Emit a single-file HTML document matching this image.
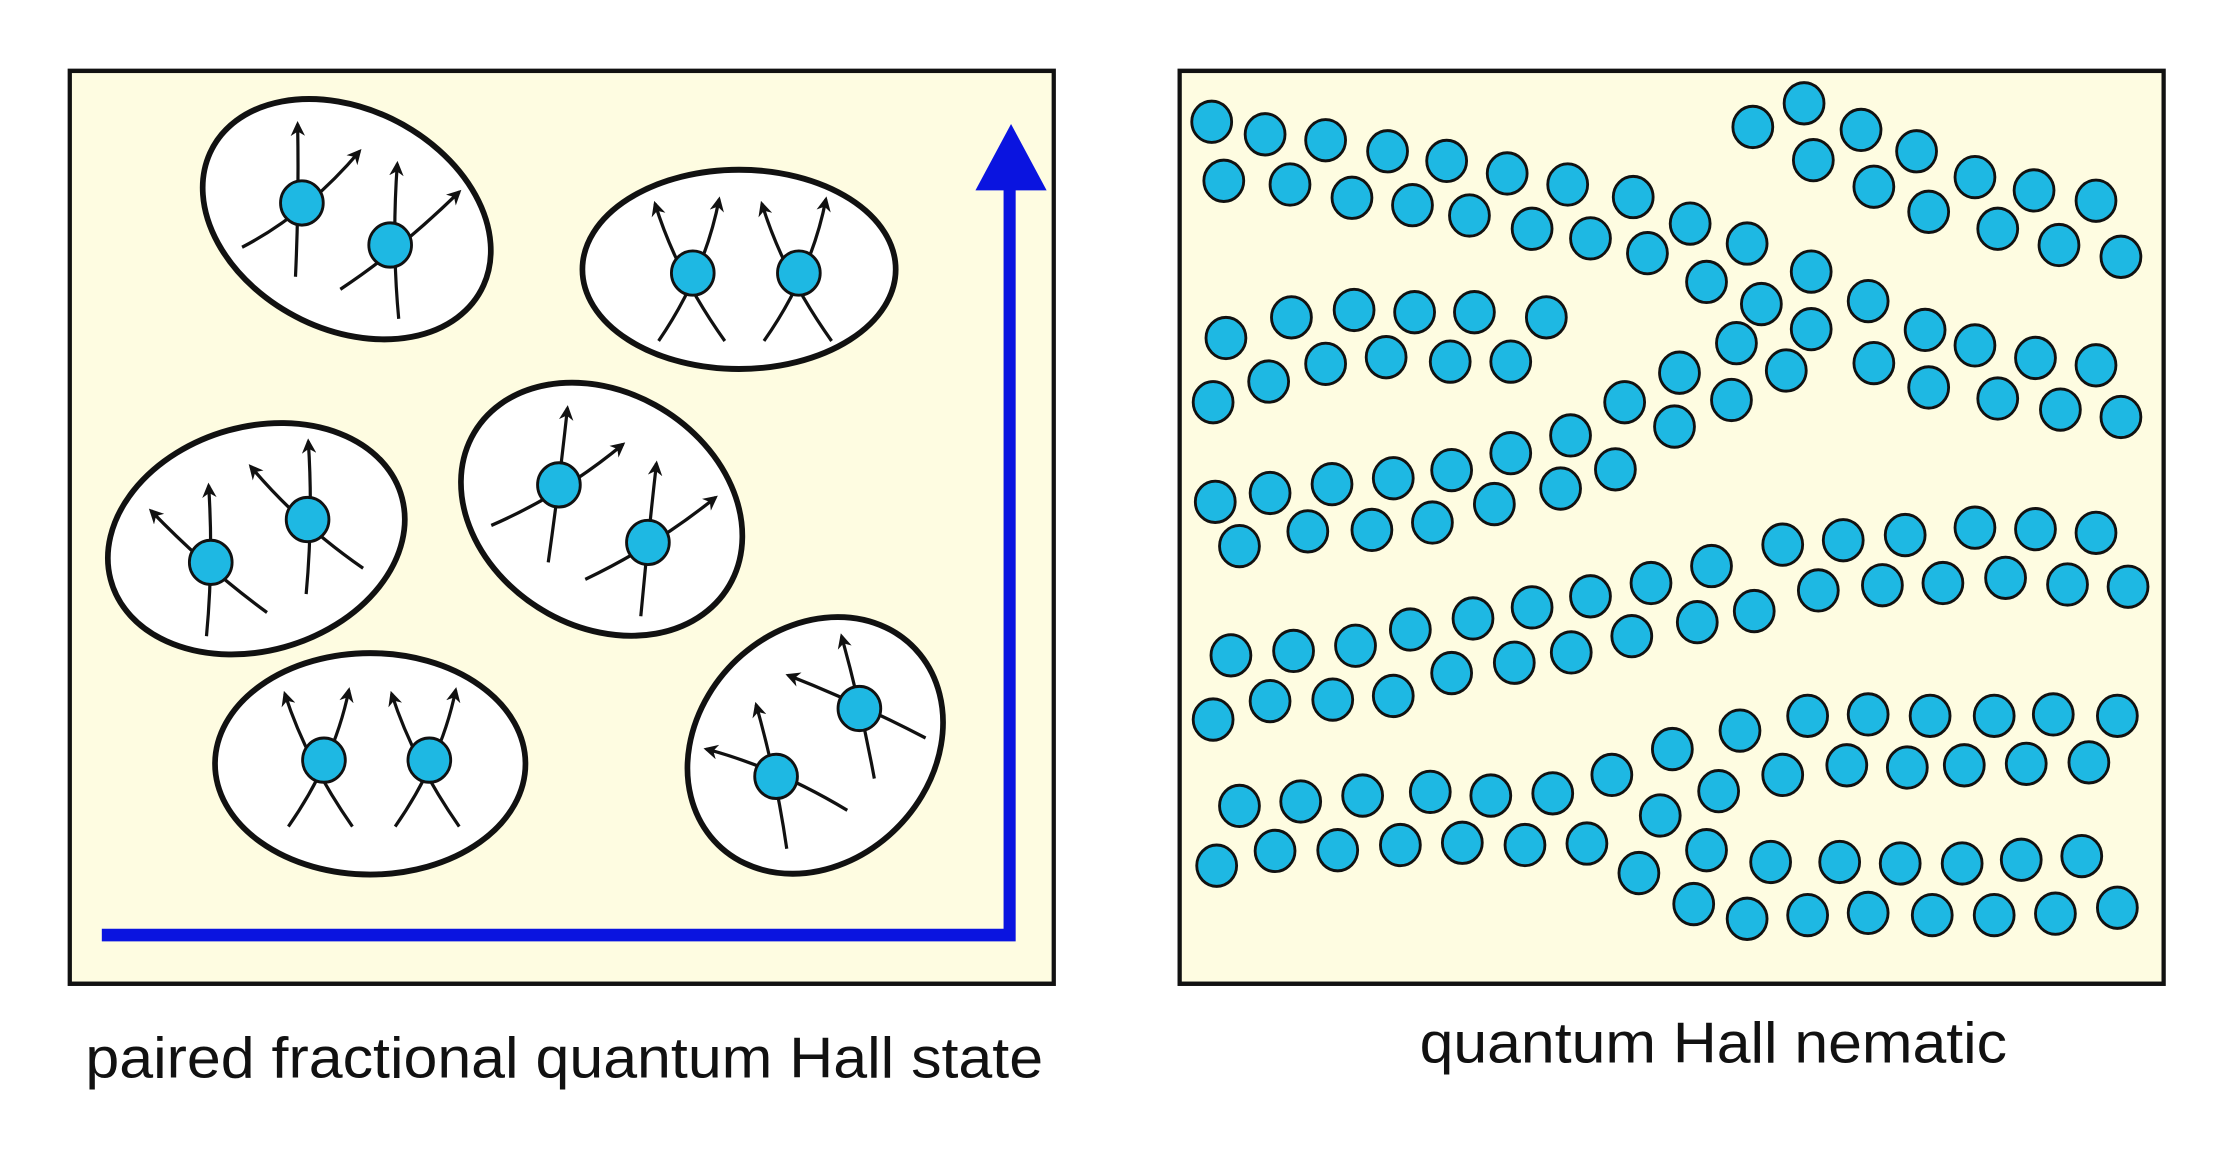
<!DOCTYPE html>
<html><head><meta charset="utf-8"><style>
html,body{margin:0;padding:0;background:#fff;}
svg{display:block;}
</style></head><body>
<svg width="2235" height="1158" viewBox="0 0 2235 1158" xmlns="http://www.w3.org/2000/svg">
<defs>
<marker id="ah" viewBox="0 0 10 10" refX="8" refY="5" markerWidth="4.5" markerHeight="4.5" orient="auto" markerUnits="strokeWidth">
<path d="M0,0 L10,5 L0,10 L3,5 z" fill="#111"/>
</marker>
</defs>
<rect width="2235" height="1158" fill="#fff"/>
<g transform="scale(0.712,0.738)">
<rect x="98" y="96" width="1382" height="1237" fill="#FEFCE1" stroke="#111" stroke-width="6"/>
<g fill="#fff" stroke="#111" stroke-width="8">
<ellipse cx="487" cy="297" rx="212" ry="150" transform="rotate(25 487 297)"/>
<ellipse cx="1038" cy="365" rx="220" ry="135"/>
<ellipse cx="360" cy="730" rx="212" ry="152" transform="rotate(-15 360 730)"/>
<ellipse cx="845" cy="690" rx="207" ry="160" transform="rotate(28 845 690)"/>
<ellipse cx="520" cy="1035" rx="218" ry="150"/>
<ellipse cx="1145" cy="1010" rx="192" ry="160" transform="rotate(-40 1145 1010)"/>
</g>
<g fill="none" stroke="#111" stroke-width="4.5" marker-end="url(#ah)">
<path d="M415,375 Q420,270 418,168"/><path d="M340,335 Q430,290 505,205"/>
<path d="M560,432 Q550,330 558,222"/><path d="M478,392 Q560,340 645,260"/>
<path d="M925,462 Q990,370 1010,270"/><path d="M1018,462 Q950,370 920,276"/>
<path d="M1073,462 Q1140,370 1160,270"/><path d="M1168,462 Q1100,370 1070,276"/>
<path d="M290,862 Q300,760 293,658"/><path d="M375,830 Q290,770 212,692"/>
<path d="M430,805 Q440,700 433,598"/><path d="M510,770 Q420,710 352,632"/>
<path d="M770,762 Q785,660 797,553"/><path d="M690,712 Q790,670 875,602"/>
<path d="M900,835 Q910,730 922,628"/><path d="M822,785 Q920,740 1005,674"/>
<path d="M405,1120 Q470,1030 490,935"/><path d="M495,1120 Q430,1030 400,940"/>
<path d="M555,1120 Q620,1030 640,935"/><path d="M645,1120 Q580,1030 550,940"/>
<path d="M1105,1150 Q1090,1050 1062,955"/><path d="M1190,1098 Q1090,1040 992,1015"/>
<path d="M1228,1055 Q1210,960 1182,862"/><path d="M1300,1000 Q1200,950 1107,915"/>
</g>
<g fill="#1EB8E3" stroke="#111" stroke-width="4">
<circle cx="424" cy="275" r="30"/><circle cx="548" cy="332" r="30"/>
<circle cx="973" cy="370" r="30"/><circle cx="1122" cy="370" r="30"/>
<circle cx="296" cy="762" r="30"/><circle cx="432" cy="704" r="30"/>
<circle cx="785" cy="657" r="30"/><circle cx="910" cy="735" r="30"/>
<circle cx="455" cy="1030" r="30"/><circle cx="603" cy="1030" r="30"/>
<circle cx="1090" cy="1052" r="30"/><circle cx="1207" cy="960" r="30"/>
</g>
<path d="M143,1267 L1418,1267 L1418,255" fill="none" stroke="#0A14E0" stroke-width="17"/>
<polygon points="1420,168 1370,258 1470,258" fill="#0A14E0"/>
<text x="120" y="1460" font-family="'Liberation Sans',sans-serif" font-size="78" fill="#111" textLength="1345" lengthAdjust="spacingAndGlyphs">paired fractional quantum Hall state</text>
</g>
<g transform="translate(1117,0) scale(0.712,0.738)">
<rect x="88" y="96" width="1382" height="1237" fill="#FEFCE1" stroke="#111" stroke-width="6"/>
<g fill="#1EB8E3" stroke="#111" stroke-width="4">
<circle cx="133" cy="165" r="28"/><circle cx="208" cy="182" r="28"/><circle cx="293" cy="190" r="28"/><circle cx="380" cy="205" r="28"/><circle cx="463" cy="218" r="28"/><circle cx="548" cy="235" r="28"/><circle cx="633" cy="250" r="28"/><circle cx="725" cy="267" r="28"/><circle cx="805" cy="303" r="28"/><circle cx="885" cy="330" r="28"/>
<circle cx="150" cy="245" r="28"/><circle cx="243" cy="250" r="28"/><circle cx="330" cy="268" r="28"/><circle cx="415" cy="278" r="28"/><circle cx="495" cy="292" r="28"/><circle cx="583" cy="310" r="28"/><circle cx="665" cy="323" r="28"/><circle cx="745" cy="343" r="28"/><circle cx="828" cy="382" r="28"/><circle cx="905" cy="412" r="28"/>
<circle cx="893" cy="172" r="28"/><circle cx="965" cy="140" r="28"/><circle cx="1045" cy="176" r="28"/><circle cx="1123" cy="205" r="28"/><circle cx="1205" cy="240" r="28"/><circle cx="1288" cy="258" r="28"/><circle cx="1375" cy="272" r="28"/>
<circle cx="978" cy="217" r="28"/><circle cx="1063" cy="253" r="28"/><circle cx="1140" cy="287" r="28"/><circle cx="1237" cy="310" r="28"/><circle cx="1323" cy="332" r="28"/><circle cx="1410" cy="348" r="28"/>
<circle cx="975" cy="368" r="28"/><circle cx="1055" cy="408" r="28"/><circle cx="1135" cy="447" r="28"/><circle cx="1205" cy="468" r="28"/><circle cx="1290" cy="485" r="28"/><circle cx="1375" cy="495" r="28"/>
<circle cx="975" cy="446" r="28"/><circle cx="870" cy="465" r="28"/><circle cx="940" cy="502" r="28"/><circle cx="863" cy="542" r="28"/><circle cx="1063" cy="492" r="28"/><circle cx="1140" cy="525" r="28"/><circle cx="1237" cy="540" r="28"/><circle cx="1325" cy="555" r="28"/><circle cx="1410" cy="565" r="28"/>
<circle cx="245" cy="430" r="28"/><circle cx="333" cy="420" r="28"/><circle cx="418" cy="423" r="28"/><circle cx="502" cy="423" r="28"/><circle cx="603" cy="430" r="28"/>
<circle cx="153" cy="458" r="28"/><circle cx="213" cy="517" r="28"/><circle cx="293" cy="493" r="28"/><circle cx="378" cy="484" r="28"/><circle cx="468" cy="490" r="28"/><circle cx="553" cy="490" r="28"/><circle cx="135" cy="545" r="28"/>
<circle cx="138" cy="680" r="28"/><circle cx="215" cy="668" r="28"/><circle cx="302" cy="656" r="28"/><circle cx="388" cy="648" r="28"/><circle cx="470" cy="637" r="28"/><circle cx="553" cy="614" r="28"/><circle cx="637" cy="590" r="28"/><circle cx="713" cy="545" r="28"/><circle cx="790" cy="505" r="28"/>
<circle cx="172" cy="740" r="28"/><circle cx="268" cy="720" r="28"/><circle cx="358" cy="718" r="28"/><circle cx="443" cy="708" r="28"/><circle cx="530" cy="683" r="28"/><circle cx="623" cy="662" r="28"/><circle cx="700" cy="636" r="28"/><circle cx="783" cy="578" r="28"/>
<circle cx="160" cy="888" r="28"/><circle cx="248" cy="882" r="28"/><circle cx="335" cy="875" r="28"/><circle cx="412" cy="853" r="28"/><circle cx="500" cy="838" r="28"/><circle cx="583" cy="823" r="28"/><circle cx="665" cy="808" r="28"/><circle cx="750" cy="790" r="28"/><circle cx="835" cy="767" r="28"/><circle cx="935" cy="738" r="28"/><circle cx="1020" cy="732" r="28"/><circle cx="1107" cy="725" r="28"/><circle cx="1205" cy="715" r="28"/><circle cx="1290" cy="717" r="28"/><circle cx="1375" cy="722" r="28"/>
<circle cx="135" cy="975" r="28"/><circle cx="215" cy="950" r="28"/><circle cx="303" cy="948" r="28"/><circle cx="388" cy="943" r="28"/><circle cx="470" cy="912" r="28"/><circle cx="558" cy="898" r="28"/><circle cx="638" cy="884" r="28"/><circle cx="723" cy="862" r="28"/><circle cx="815" cy="843" r="28"/><circle cx="895" cy="828" r="28"/><circle cx="985" cy="800" r="28"/><circle cx="1075" cy="793" r="28"/><circle cx="1160" cy="790" r="28"/><circle cx="1248" cy="783" r="28"/><circle cx="1335" cy="792" r="28"/><circle cx="1420" cy="795" r="28"/>
<circle cx="172" cy="1092" r="28"/><circle cx="258" cy="1086" r="28"/><circle cx="345" cy="1078" r="28"/><circle cx="440" cy="1073" r="28"/><circle cx="525" cy="1078" r="28"/><circle cx="612" cy="1075" r="28"/><circle cx="695" cy="1050" r="28"/><circle cx="780" cy="1015" r="28"/><circle cx="875" cy="990" r="28"/><circle cx="970" cy="970" r="28"/><circle cx="1055" cy="968" r="28"/><circle cx="1142" cy="970" r="28"/><circle cx="1232" cy="970" r="28"/><circle cx="1315" cy="968" r="28"/><circle cx="1405" cy="970" r="28"/>
<circle cx="140" cy="1173" r="28"/><circle cx="222" cy="1153" r="28"/><circle cx="310" cy="1152" r="28"/><circle cx="398" cy="1145" r="28"/><circle cx="485" cy="1142" r="28"/><circle cx="573" cy="1145" r="28"/><circle cx="660" cy="1143" r="28"/><circle cx="763" cy="1105" r="28"/><circle cx="845" cy="1072" r="28"/><circle cx="935" cy="1050" r="28"/><circle cx="1025" cy="1037" r="28"/><circle cx="1110" cy="1040" r="28"/><circle cx="1190" cy="1037" r="28"/><circle cx="1277" cy="1035" r="28"/><circle cx="1365" cy="1033" r="28"/>
<circle cx="733" cy="1183" r="28"/><circle cx="828" cy="1152" r="28"/><circle cx="918" cy="1168" r="28"/><circle cx="1015" cy="1168" r="28"/><circle cx="1100" cy="1170" r="28"/><circle cx="1187" cy="1170" r="28"/><circle cx="1270" cy="1165" r="28"/><circle cx="1355" cy="1160" r="28"/>
<circle cx="810" cy="1225" r="28"/><circle cx="885" cy="1245" r="28"/><circle cx="970" cy="1240" r="28"/><circle cx="1055" cy="1237" r="28"/><circle cx="1145" cy="1240" r="28"/><circle cx="1232" cy="1240" r="28"/><circle cx="1318" cy="1238" r="28"/><circle cx="1405" cy="1230" r="28"/>
</g>
<text x="425" y="1440" font-family="'Liberation Sans',sans-serif" font-size="78" fill="#111" textLength="825" lengthAdjust="spacingAndGlyphs">quantum Hall nematic</text>
</g>
</svg>
</body></html>
